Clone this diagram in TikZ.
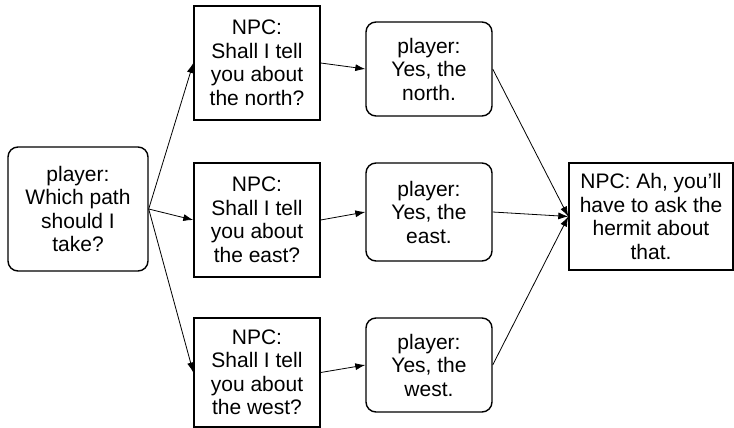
\documentclass[tikz,border=0pt]{standalone}
\usepackage{fontspec}
\setmainfont{Liberation Sans}
\usetikzlibrary{arrows.meta, positioning}
\tikzset{
  npcbox/.style={
    draw=black,
    line width=1.4pt,
    align=center,
    text=black,
    font=\fontsize{21}{23.5}\selectfont,
    inner sep=2pt,
    minimum width=126pt,
    minimum height=114pt
  },
  playerbox/.style={
    npcbox,
    rounded corners=10pt,
    minimum height=96pt
  },
  talkarrow/.style={
    -{Latex[length=10pt, width=7pt]},
    line width=0.8pt,
    color=black
  }
}
\begin{document}
\begin{tikzpicture}[x=1pt, y=-1pt]
  \useasboundingbox (0,0) rectangle (734,428);

  % Opening line
  \node (start) [playerbox, minimum width=140pt, minimum height=124pt] at (78,209) {player:\\Which path\\should I\\take?};

  % NPC offers
  \node (npcN) [npcbox] at (257,63) {NPC:\\Shall I tell\\you about\\the north?};
  \node (npcE) [npcbox] at (257,220) {NPC:\\Shall I tell\\you about\\the east?};
  \node (npcW) [npcbox, minimum height=109pt] at (257,372.5) {NPC:\\Shall I tell\\you about\\the west?};

  % Player answers
  \node (yesN) [playerbox, minimum height=94pt] at (429,69) {player:\\Yes, the\\north.};
  \node (yesE) [playerbox, minimum height=98pt] at (429,212) {player:\\Yes, the\\east.};
  \node (yesW) [playerbox, minimum height=94pt] at (429,365) {player:\\Yes, the\\west.};

  % Hermit
  \node (hermit) [npcbox, minimum width=164pt, minimum height=107pt] at (651,216.5) {NPC: Ah, you'll\\have to ask the\\hermit about\\that.};

  % Connectors
  \draw [talkarrow] (start.east) -- (npcN.west);
  \draw [talkarrow] (start.east) -- (npcE.west);
  \draw [talkarrow] (start.east) -- (npcW.west);
  \draw [talkarrow] (npcN.east) -- (yesN.west);
  \draw [talkarrow] (npcE.east) -- (yesE.west);
  \draw [talkarrow] (npcW.east) -- (yesW.west);
  \draw [talkarrow] (yesN.east) -- (hermit.west);
  \draw [talkarrow] (yesE.east) -- (hermit.west);
  \draw [talkarrow] (yesW.east) -- (hermit.west);

\end{tikzpicture}
\end{document}
